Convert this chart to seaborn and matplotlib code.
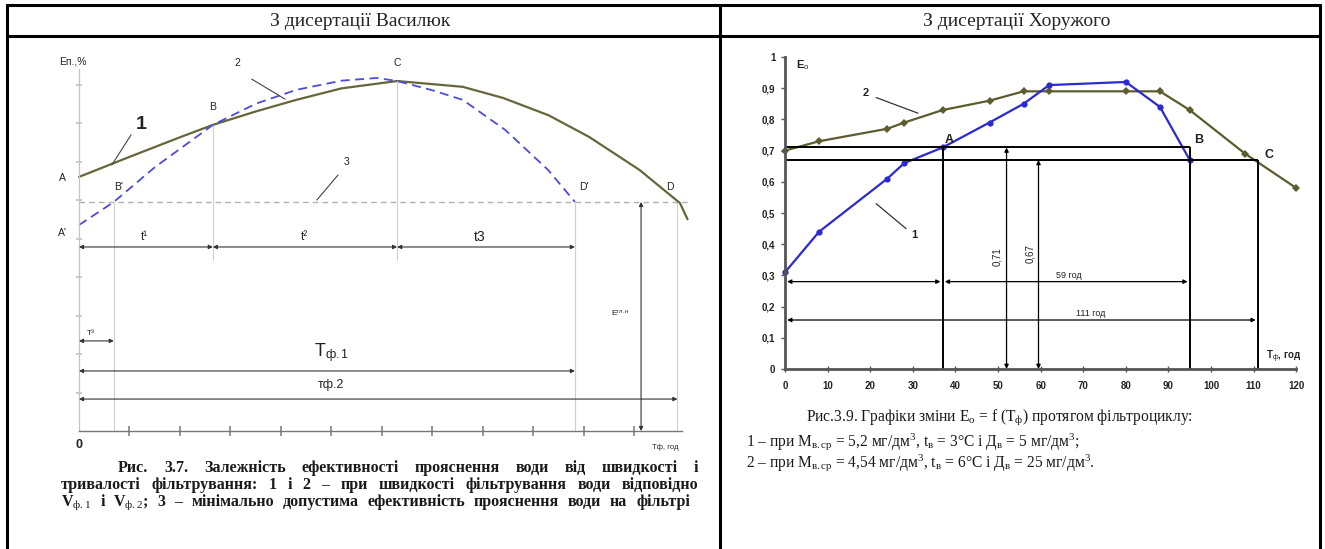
import matplotlib
matplotlib.use("Agg")
import matplotlib.pyplot as plt
import seaborn as sns
from matplotlib.lines import Line2D
from matplotlib.ticker import FuncFormatter

sns.set_theme(style="white")
plt.rcParams['font.family'] = ['Liberation Sans', 'DejaVu Sans']
plt.rcParams['mathtext.fontset'] = 'custom'
plt.rcParams['mathtext.rm'] = 'Liberation Serif'
plt.rcParams['mathtext.it'] = 'Liberation Serif:italic'
plt.rcParams['mathtext.bf'] = 'Liberation Serif:bold'
plt.rcParams['mathtext.sf'] = 'Liberation Sans'

# ---------------- data: left (schematic) chart ----------------
left_c1_t = [0, 1.0, 2.0, 2.65, 3.5, 4.3, 5.2, 6.3, 7.6, 8.4, 9.3, 10.1, 11.1, 11.9, 12.05]
left_c1_e = [6.6, 7.12, 7.63, 7.95, 8.3, 8.6, 8.9, 9.09, 8.94, 8.65, 8.2, 7.64, 6.78, 5.92, 5.5]
left_c2_t = [0, 0.69, 1.5, 2.65, 3.5, 4.3, 5.2, 5.9, 6.3, 7.0, 7.6, 8.44, 9.29, 9.82]
left_c2_e = [5.35, 5.95, 6.85, 7.95, 8.5, 8.86, 9.1, 9.17, 9.09, 8.85, 8.6, 7.82, 6.78, 5.95]
left_emin = 5.95
left_tB, left_eB = 2.65, 7.95
left_tC, left_eC = 6.3, 9.09
left_tBp, left_tDp, left_tD = 0.69, 9.82, 11.85

# ---------------- data: right chart ----------------
t1 = [0, 8, 24, 28, 37, 48, 56, 62, 80, 88, 95]
e1 = [0.31, 0.44, 0.61, 0.66, 0.71, 0.79, 0.85, 0.91, 0.92, 0.84, 0.67]
t2 = [0, 8, 24, 28, 37, 48, 56, 62, 80, 88, 95, 108, 120]
e2 = [0.70, 0.73, 0.77, 0.79, 0.83, 0.86, 0.89, 0.89, 0.89, 0.89, 0.83, 0.69, 0.58]
A_t, B_t, C_t = 37, 95, 111
e_hi, e_lo = 0.71, 0.67
x_ticks = list(range(0, 121, 10))
y_ticks = [0, 0.1, 0.2, 0.3, 0.4, 0.5, 0.6, 0.7, 0.8, 0.9, 1.0]

headers = ["З дисертації Василюк", "З дисертації Хоружого"]
cap_left = ["Рис. 3.7. Залежність ефективності прояснення води від швидкості і",
            "тривалості фільтрування: 1 і 2 – при швидкості фільтрування води відповідно",
            r"V$_{\mathrm{ф.1}}$ і V$_{\mathrm{ф.2}}$; 3 – мінімально допустима ефективність прояснення води на фільтрі"]
cap_right = [r"Рис.3.9. Графіки зміни E$_{\mathrm{о}}$ = f (T$_{\mathrm{ф}}$) протягом фільтроциклу:",
             r"1 – при M$_{\mathrm{в.ср}}$ = 5,2 мг/дм$^{3}$, t$_{\mathrm{в}}$ = 3°C і Д$_{\mathrm{в}}$ = 5 мг/дм$^{3}$;",
             r"2 – при M$_{\mathrm{в.ср}}$ = 4,54 мг/дм$^{3}$, t$_{\mathrm{в}}$ = 6°C і Д$_{\mathrm{в}}$ = 25 мг/дм$^{3}$."]

W, H = 1325, 549
fig = plt.figure(figsize=(W / 100, H / 100), dpi=100)
fig.patch.set_facecolor('white')


def fx(x):
    return x / W


def fy(y):
    return 1 - y / H


# ---------------- table frame ----------------
for (x0, y0, x1, y1) in [(7, 5, 1320, 5), (7, 36, 1320, 36), (7, 5, 7, 549),
                         (720, 5, 720, 549), (1320, 5, 1320, 549)]:
    fig.add_artist(Line2D([fx(x0), fx(x1)], [fy(y0), fy(y1)], color='black', lw=2.2,
                          transform=fig.transFigure))
fig.text(fx(360), fy(21), headers[0], ha='center', va='center', fontsize=14, family='Liberation Serif')
fig.text(fx(1017), fy(21), headers[1], ha='center', va='center', fontsize=14, family='Liberation Serif')

# ---------------- left chart ----------------
axL = fig.add_axes([40 / W, 1 - 460 / H, 660 / W, 420 / H])
axL.patch.set_visible(False)
sns.lineplot(x=[0, left_c1_t[-1]], y=[left_emin, left_emin], ax=axL, color='#b0b0b0', lw=1.0,
             linestyle=(0, (4, 3)))
sns.lineplot(x=left_c1_t, y=left_c1_e, ax=axL, color='#66663a', lw=1.6, sort=False)
sns.lineplot(x=left_c2_t, y=left_c2_e, ax=axL, color='#4b4be0', lw=1.3, linestyle=(0, (5, 3)), sort=False)
axL.set_xlim(-0.772, 12.297)
axL.set_ylim(-0.753, 10.156)
axL.set_xlabel('')
axL.set_ylabel('')
for s in ['top', 'right']:
    axL.spines[s].set_visible(False)
axL.spines['left'].set_position(('data', 0))
axL.spines['bottom'].set_position(('data', 0))
axL.spines['left'].set_bounds(0, 9.4)
axL.spines['bottom'].set_bounds(0, 11.95)
axL.spines['left'].set_color('#c4c4c4')
axL.spines['left'].set_linewidth(0.9)
axL.spines['bottom'].set_color('#777777')
axL.spines['bottom'].set_linewidth(1.0)
axL.set_xticks(range(1, 12))
axL.set_yticks(range(1, 10))
axL.tick_params(axis='x', direction='inout', length=7, color='#888888', labelbottom=False, bottom=True)
axL.tick_params(axis='y', direction='inout', length=5, color='#c4c4c4', labelleft=False, left=True)

gc = '#cfcfcf'
axL.vlines([left_tB, left_tC], [left_eB, left_eC], 4.44, color=gc, lw=0.8)
axL.vlines([left_tBp, left_tDp, left_tD], left_emin, 0, color=gc, lw=0.8)


def darrow(ax, x0, y0, x1, y1, color='#333333', lw=0.8, ms=6):
    ax.annotate('', xy=(x1, y1), xytext=(x0, y0),
                arrowprops=dict(arrowstyle='<|-|>', color=color, lw=lw, mutation_scale=ms,
                                shrinkA=0, shrinkB=0))


darrow(axL, 0, 4.78, left_tB, 4.78)
darrow(axL, left_tB, 4.78, left_tC, 4.78)
darrow(axL, left_tC, 4.78, left_tDp, 4.78)
darrow(axL, 0, 2.34, left_tBp, 2.34)
darrow(axL, 0, 1.56, left_tDp, 1.56)
darrow(axL, 0, 0.83, left_tD, 0.83)
darrow(axL, 11.13, left_emin, 11.13, 0)

lk = dict(fontsize=7.5, color='#222222', ha='center', va='center')
axL.text(-0.12, 9.61, "Еп.,%", **lk)
axL.text(3.13, 9.56, "2", **lk)
axL.text(left_tC, 9.56, "C", **lk)
axL.text(left_tB, 8.42, "B", **lk)
axL.text(1.24, 7.95, "1", fontsize=14, fontweight='bold', color='#222222', ha='center', va='center')
axL.text(5.3, 7.0, "3", **lk)
axL.text(-0.32, 6.57, "A", **lk)
axL.text(0.78, 6.34, "B'", **lk)
axL.text(9.99, 6.34, "D'", **lk)
axL.text(11.7, 6.34, "D", **lk)
axL.text(-0.32, 5.14, "A'", **lk)
axL.text(1.29, 5.04, "t¹", fontsize=8.5, color='#222222', ha='center', va='center')
axL.text(4.46, 5.04, "t²", fontsize=8.5, color='#222222', ha='center', va='center')
axL.text(7.94, 5.04, "t3", fontsize=10, color='#222222', ha='center', va='center')
axL.text(0.24, 2.52, "T³", fontsize=6, color='#222222', ha='center', va='center')
axL.text(5.0, 2.03, r"T$_\mathsf{ф.1}$", fontsize=13, color='#222222', ha='center', va='center')
axL.text(5.0, 1.19, "тф.2", fontsize=9, color='#222222', ha='center', va='center')
axL.text(10.71, 3.06, r"E$^\mathsf{гл.н}$", fontsize=6, color='#222222', ha='center', va='center')
axL.text(0.0, -0.36, "0", fontsize=9, fontweight='bold', color='#222222', ha='center', va='center')
axL.text(11.6, -0.42, "Tф, год", fontsize=5.5, color='#222222', ha='center', va='center')
axL.plot([1.03, 0.65], [7.69, 6.91], color='#444444', lw=0.8)
axL.plot([3.42, 4.08], [9.14, 8.62], color='#444444', lw=0.8)
axL.plot([5.13, 4.71], [6.65, 6.0], color='#444444', lw=0.8)

# ---------------- right chart ----------------
axR = fig.add_axes([730 / W, 1 - 400 / H, 585 / W, 355 / H])
axR.patch.set_visible(False)
sns.lineplot(x=t2, y=e2, ax=axR, color='#5c5c2e', lw=1.6, marker='D', markersize=4,
             markeredgewidth=0, sort=False)
sns.lineplot(x=t1, y=e1, ax=axR, color='#2a2ad0', lw=1.6, marker='o', markersize=4.5,
             markeredgewidth=0, sort=False)
axR.set_xlim(-12.91, 124.4)
axR.set_ylim(-0.0994, 1.0385)
axR.set_xlabel('')
axR.set_ylabel('')
for s in ['top', 'right']:
    axR.spines[s].set_visible(False)
for s in ['left', 'bottom']:
    axR.spines[s].set_position(('data', 0))
    axR.spines[s].set_color('#555555')
    axR.spines[s].set_linewidth(2.0)
axR.spines['left'].set_bounds(0, 1)
axR.spines['bottom'].set_bounds(0, 120)
axR.set_xticks(x_ticks)
axR.set_yticks(y_ticks)
axR.xaxis.set_major_formatter(FuncFormatter(lambda v, p: f"{v:g}"))
axR.yaxis.set_major_formatter(FuncFormatter(lambda v, p: f"{v:g}".replace('.', ',')))
axR.tick_params(axis='x', direction='inout', length=5, width=1, color='#555555', pad=6,
                labelsize=7, bottom=True)
axR.tick_params(axis='y', direction='out', length=3, width=1, color='#555555', pad=4,
                labelsize=7, left=True)
for lab in axR.get_xticklabels() + axR.get_yticklabels():
    lab.set_fontweight('bold')
    lab.set_color('#222222')

axR.hlines(e_hi, 0, B_t, color='black', lw=1.4)
axR.hlines(e_lo, 0, C_t, color='black', lw=1.4)
axR.vlines([A_t, B_t], 0, e_hi, color='black', lw=1.4)
axR.vlines(C_t, 0, e_lo, color='black', lw=1.4)
darrow(axR, 0.5, 0.28, A_t - 0.5, 0.28, color='black', lw=0.9)
darrow(axR, A_t + 0.5, 0.28, B_t - 0.5, 0.28, color='black', lw=0.9)
darrow(axR, 0.5, 0.157, C_t - 0.5, 0.157, color='black', lw=0.9)
darrow(axR, 52, 0.0, 52, e_hi, color='black', lw=0.9)
darrow(axR, 59.5, 0.0, 59.5, e_lo, color='black', lw=0.9)

rk = dict(color='#222222', ha='center', va='center')
axR.text(A_t + 1.5, 0.735, "A", fontsize=9, fontweight='bold', **rk)
axR.text(B_t + 2, 0.735, "B", fontsize=9, fontweight='bold', **rk)
axR.text(C_t + 2.5, 0.685, "C", fontsize=9, fontweight='bold', **rk)
axR.text(19, 0.885, "2", fontsize=8, fontweight='bold', **rk)
axR.text(30.3, 0.43, "1", fontsize=8, fontweight='bold', **rk)
axR.text(66.5, 0.30, "59 год", fontsize=6.5, **rk)
axR.text(71.8, 0.178, "111 год", fontsize=6.5, **rk)
axR.text(49.8, 0.36, "0,71", fontsize=7, rotation=90, **rk)
axR.text(57.6, 0.37, "0,67", fontsize=7, rotation=90, **rk)
axR.text(4.2, 0.975, r"E$_\mathsf{o}$", fontsize=8, fontweight='bold', **rk)
axR.text(117, 0.013, r"T$_\mathsf{ф}$, год", fontsize=7, fontweight='bold', color='#222222',
         ha='center', va='bottom')
axR.plot([21.4, 31.2], [0.87, 0.82], color='#333333', lw=0.9)
axR.plot([28.4, 21.4], [0.45, 0.53], color='#333333', lw=0.9)

# ---------------- captions ----------------
renderer = fig.canvas.get_renderer()


def justified(text, x0, x1, ybase, **kw):
    words = text.split()
    objs = [fig.text(0, fy(ybase), w, va='baseline', ha='left', **kw) for w in words]
    widths = [o.get_window_extent(renderer).width for o in objs]
    gap = (x1 - x0 - sum(widths)) / max(len(words) - 1, 1)
    x = x0
    for o, w in zip(objs, widths):
        o.set_x(fx(x))
        x += w + gap


ck = dict(fontsize=11.5, family='Liberation Serif', fontweight='bold', color='#1a1a1a')
justified(cap_left[0], 118, 698, 472, **ck)
justified(cap_left[1], 61, 698, 489, **ck)
justified(cap_left[2], 61, 690, 506, **ck)

rk2 = dict(fontsize=11.2, family='Liberation Serif', color='#1a1a1a', va='baseline', ha='left')
fig.text(fx(806), fy(421), cap_right[0], **rk2)
fig.text(fx(746), fy(446), cap_right[1], **rk2)
fig.text(fx(746), fy(467), cap_right[2], **rk2)

fig.savefig("out.png", dpi=100, facecolor='white')
